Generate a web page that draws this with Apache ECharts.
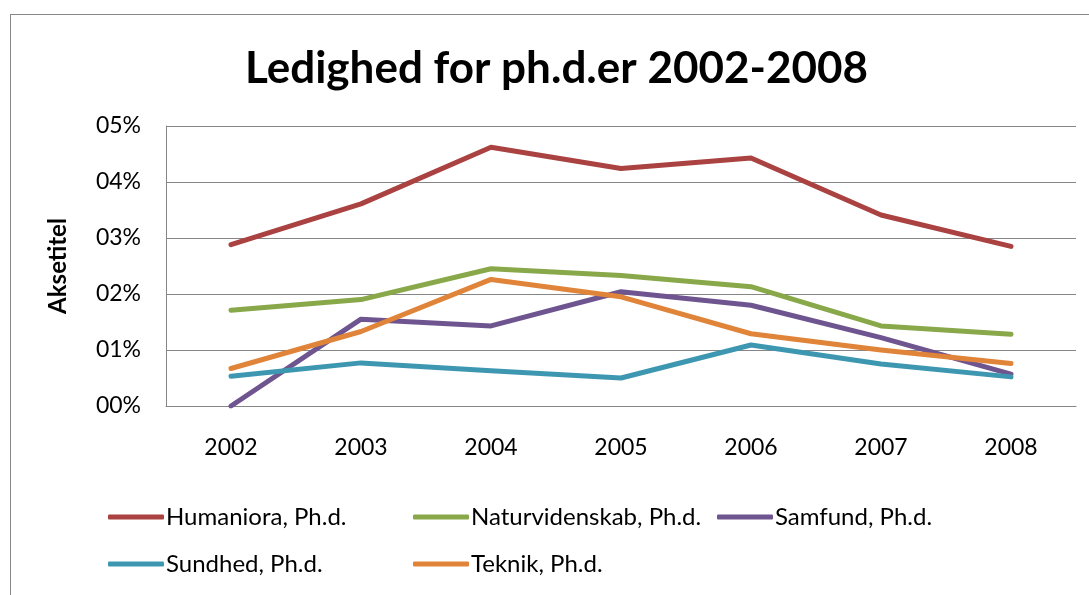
<!DOCTYPE html>
<html>
<head>
<meta charset="utf-8">
<script src="https://cdn.jsdelivr.net/npm/echarts@6/dist/echarts.min.js"></script>
<style>
    html, body { margin: 0; padding: 0; background: #fff; }
    #frame {
        position: absolute; left: 10px; top: 14px;
        width: 1100px; height: 600px;
        border: 1px solid #888;
    }
    #chart { position: absolute; left: 0; top: 0; width: 1089px; height: 595px; }
</style>
</head>
<body>
<div id="frame"></div>
<div id="chart"></div>
<script>
const years = ["2002", "2003", "2004", "2005", "2006", "2007", "2008"];
const humaniora = [2.88, 3.61, 4.62, 4.24, 4.43, 3.41, 2.85];
const naturvidenskab = [1.71, 1.9, 2.45, 2.33, 2.13, 1.43, 1.28];
const samfund = [0.0, 1.55, 1.43, 2.04, 1.8, 1.22, 0.57];
const sundhed = [0.53, 0.77, 0.63, 0.5, 1.09, 0.75, 0.52];
const teknik = [0.67, 1.33, 2.26, 1.95, 1.29, 1.0, 0.76];
const yTicks = [0, 1, 2, 3, 4, 5];

const font = "Lato, 'Open Sans', sans-serif";
const seriesDefs = [
    { name: "Humaniora, Ph.d.", data: humaniora, color: "#a94240", left: 108, top: 505 },
    { name: "Naturvidenskab, Ph.d.", data: naturvidenskab, color: "#89a84a", left: 413, top: 505 },
    { name: "Samfund, Ph.d.", data: samfund, color: "#6f5590", left: 717, top: 505 },
    { name: "Sundhed, Ph.d.", data: sundhed, color: "#3e97b1", left: 108, top: 552 },
    { name: "Teknik, Ph.d.", data: teknik, color: "#e0843a", left: 413, top: 552 },
];

const chart = echarts.init(document.getElementById("chart"));

chart.setOption({
    animation: false,
    title: {
        text: "Ledighed for ph.d.er 2002-2008",
        left: 245,
        top: 47,
        padding: 0,
        textStyle: { fontFamily: font, fontSize: 44, fontWeight: "bold", color: "#000" },
    },
    legend: seriesDefs.map((s) => ({
        data: [s.name],
        left: s.left,
        top: s.top,
        padding: 0,
        itemWidth: 56,
        itemHeight: 5,
        itemGap: 4,
        icon: "roundRect",
        textStyle: { fontFamily: font, fontSize: 24, color: "#000", padding: [0, 0, 0, -3] },
    })),
    grid: { left: 166, right: 13, top: 126, bottom: 189 },
    xAxis: {
        type: "category",
        data: years,
        boundaryGap: true,
        axisLine: { lineStyle: { color: "#868686", width: 1 } },
        axisTick: { show: false },
        axisLabel: { fontFamily: font, fontSize: 23, color: "#000", margin: 30 },
    },
    yAxis: {
        type: "value",
        min: yTicks[0],
        max: yTicks[yTicks.length - 1],
        interval: 1,
        name: "Aksetitel",
        nameLocation: "middle",
        nameRotate: 90,
        nameGap: 96,
        nameTextStyle: { fontFamily: font, fontSize: 24, fontWeight: "bold", color: "#000" },
        axisLine: { show: true, lineStyle: { color: "#868686", width: 1 } },
        axisTick: { show: false },
        splitLine: { lineStyle: { color: "#868686", width: 1 } },
        axisLabel: {
            fontFamily: font, fontSize: 23, color: "#000", margin: 25,
            formatter: (v) => "0" + v + "%",
        },
    },
    series: seriesDefs.map((s) => ({
        name: s.name,
        type: "line",
        data: s.data,
        showSymbol: false,
        symbol: "none",
        color: s.color,
        lineStyle: { width: 5, color: s.color, cap: "round", join: "round" },
    })),
});
</script>
</body>
</html>
